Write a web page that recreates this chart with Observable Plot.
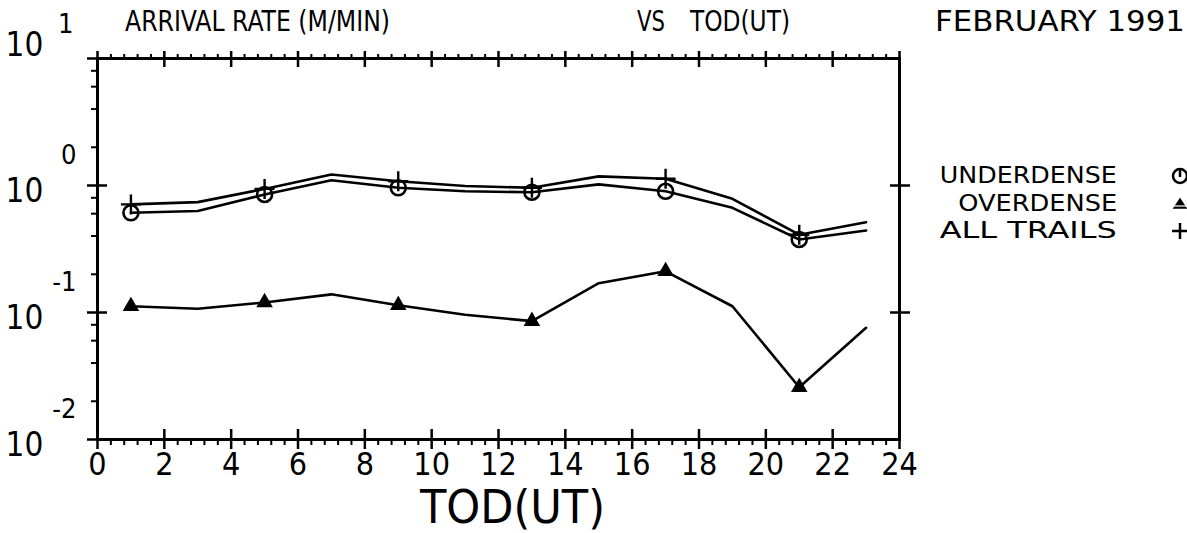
<!DOCTYPE html>
<html><head><meta charset="utf-8">
<script src="https://cdn.jsdelivr.net/npm/d3@7"></script>
<script src="https://cdn.jsdelivr.net/npm/@observablehq/plot@0.6"></script>
<style>
html,body{margin:0;padding:0;background:#fff;}
#wrap{position:relative;width:1187px;height:533px;overflow:hidden;font-family:"DejaVu Sans Condensed","DejaVu Sans",sans-serif;color:#000;}
#wrap svg{position:absolute;left:0;top:0;}
.lab{position:absolute;white-space:pre;line-height:0.8;font-size:27px;}
.leg{position:absolute;}
</style></head><body>
<div id="wrap"></div>
<script>
// ---- data ----
const hours = [1, 3, 5, 7, 9, 11, 13, 15, 17, 19, 21, 23];
const underdense = [0.61, 0.63, 0.85, 1.10, 0.96, 0.90, 0.885, 1.02, 0.90, 0.667, 0.376, 0.442];
const overdense  = [0.112, 0.107, 0.12, 0.139, 0.114, 0.096, 0.0855, 0.17, 0.211, 0.112, 0.0258, 0.0758];
const allTrails  = [0.71, 0.74, 0.94, 1.22, 1.08, 0.99, 0.96, 1.18, 1.13, 0.785, 0.41, 0.514];
const markerHours = [1, 5, 9, 13, 17, 21];
const seriesNames = ["UNDERDENSE", "OVERDENSE", "ALL TRAILS"];
const xTicks = [0, 2, 4, 6, 8, 10, 12, 14, 16, 18, 20, 22, 24];
const yDecades = [10, 1, 0.1, 0.01];
const yExponents = ["1", "0", "-1", "-2"];
const titleParts = ["ARRIVAL RATE (M/MIN)", "VS", "TOD(UT)", "FEBRUARY 1991"];
const xLabel = "TOD(UT)";

// ---- build table ----
const seriesValues = [underdense, overdense, allTrails];
const rows = [];
seriesNames.forEach((s, i) => hours.forEach((h, j) => rows.push({series: s, hour: h, value: seriesValues[i][j]})));
const markRows = rows.filter(d => markerHours.includes(d.hour));
const xMinor = d3.range(0, 24.001, 0.4).map(v => +v.toFixed(2)).filter(v => Math.abs(v / 2 - Math.round(v / 2)) > 1e-6);
const yMinor = [];
[0.01, 0.1, 1].forEach(d => [2, 4, 6, 8].forEach(m => yMinor.push(+(d * m).toPrecision(3))));
const yLab = yDecades.map((v, i) => ({v, e: yExponents[i]}));
const yLabTop = yLab.filter(d => d.v === 10);
const yLabRest = yLab.filter(d => d.v !== 10);

const font = '"DejaVu Sans Condensed","DejaVu Sans",sans-serif';
const blank = () => "";

const chart = Plot.plot({
  width: 1187, height: 533,
  marginLeft: 97, marginRight: 288, marginTop: 58, marginBottom: 94,
  x: {domain: [0, 24], label: null},
  y: {type: "log", domain: [0.01, 10], label: null},
  style: {fontFamily: font, background: "transparent", color: "#000", overflow: "visible"},
  marks: [
    Plot.line(rows, {x: "hour", y: "value", z: "series", stroke: "#000", strokeWidth: 2.6}),
    Plot.dot(markRows.filter(d => d.series === "UNDERDENSE"), {x: "hour", y: "value", r: 7.5, stroke: "#000", strokeWidth: 2.6, fill: "none"}),
    Plot.dot(markRows.filter(d => d.series === "ALL TRAILS"), {x: "hour", y: "value", symbol: "plus", r: 6.5, stroke: "#000", strokeWidth: 2.4}),
    Plot.dot(markRows.filter(d => d.series === "OVERDENSE"), {x: "hour", y: "value", symbol: "triangle", r: 5, stroke: "#000", fill: "#000", strokeWidth: 1.8}),
    Plot.frame({stroke: "#000", strokeWidth: 3}),
    // bottom axis
    Plot.axisX(xTicks, {anchor: "bottom", tickSize: 20, dy: -10, tickFormat: blank, strokeWidth: 2.5}),
    Plot.axisX(xMinor, {anchor: "bottom", tickSize: 6, tickFormat: blank, strokeWidth: 2}),
    Plot.axisX(xTicks, {anchor: "bottom", tickSize: 0, tickPadding: 13, fontSize: 32, tickFormat: d => String(d)}),
    // top axis
    Plot.axisX(xTicks, {anchor: "top", tickSize: 16, dy: 8, tickFormat: blank, strokeWidth: 2.5}),
    Plot.axisX(xMinor, {anchor: "top", tickSize: 5, tickFormat: blank, strokeWidth: 2}),
    // left axis
    Plot.axisY(yDecades, {anchor: "left", tickSize: 20, dx: 10, tickFormat: blank, strokeWidth: 2.5}),
    Plot.axisY(yMinor, {anchor: "left", tickSize: 6, tickFormat: blank, strokeWidth: 2}),
    // right axis
    Plot.axisY([1, 0.1], {anchor: "right", tickSize: 20, dx: -10, tickFormat: blank, strokeWidth: 2.5}),
    // y tick labels 10^n
    Plot.text(yLabRest, {frameAnchor: "left", y: "v", text: () => "10", textAnchor: "start", dx: -92, dy: 6, fontSize: 33}),
    Plot.text(yLabRest, {frameAnchor: "left", y: "v", text: "e", textAnchor: "end", dx: -21, dy: -30, fontSize: 27}),
    Plot.text(yLabTop, {frameAnchor: "left", y: "v", text: () => "10", textAnchor: "start", dx: -92, dy: -13, fontSize: 33}),
    Plot.text(yLabTop, {frameAnchor: "left", y: "v", text: "e", textAnchor: "end", dx: -24, dy: -34, fontSize: 27})
  ]
});
const wrap = document.getElementById("wrap");
wrap.appendChild(chart);

function lab(text, left, top, size, width, extra) {
  const d = document.createElement("div");
  d.className = "lab";
  d.textContent = text;
  d.style.left = left + "px";
  d.style.top = top + "px";
  d.style.fontSize = size + "px";
  if (extra) Object.assign(d.style, extra);
  wrap.appendChild(d);
  if (width) {
    const w = d.getBoundingClientRect().width;
    d.style.transform = `scaleX(${width / w})`;
    d.style.transformOrigin = (extra && extra.right) ? "right center" : "left center";
  }
  return d;
}
// title (line-height .8 => baseline ~ top + 0.746em)
lab(titleParts[0], 125, 10, 29, 265);
lab(titleParts[1], 637, 10, 29, 28);
lab(titleParts[2], 690, 10, 29, 100);
lab(titleParts[3], 935, 10, 29, 250);
// x axis label
lab(xLabel, 420, 491, 46, 185, {lineHeight: "0.7"});
// legend
const legTops = [166, 194, 221];
const legWidths = [177, 159, 177];
seriesNames.forEach((s, i) => {
  lab(s, 0, legTops[i], 23, legWidths[i], {left: "auto", right: "70px"});
});
function legSym(i, inner) {
  const ns = "http://www.w3.org/2000/svg";
  const s = document.createElementNS(ns, "svg");
  s.setAttribute("width", 24); s.setAttribute("height", 24);
  s.setAttribute("class", "leg");
  s.style.left = "1168px";
  s.style.top = (legTops[i] - 3) + "px";
  s.innerHTML = inner;
  wrap.appendChild(s);
}
legSym(0, '<circle cx="12" cy="13" r="7" fill="none" stroke="#000" stroke-width="2.5"/><line x1="12" y1="6" x2="12" y2="14" stroke="#000" stroke-width="2.5"/>');
legSym(1, '<path d="M12,8 L18,17 L6,17 Z" fill="#000" stroke="#000" stroke-width="1.5"/><line x1="6" y1="15" x2="18" y2="15" stroke="#fff" stroke-width="1.2"/>');
legSym(2, '<line x1="4" y1="13" x2="20" y2="13" stroke="#000" stroke-width="2.5"/><line x1="12" y1="5" x2="12" y2="21" stroke="#000" stroke-width="2.5"/>');
</script>
</body></html>
